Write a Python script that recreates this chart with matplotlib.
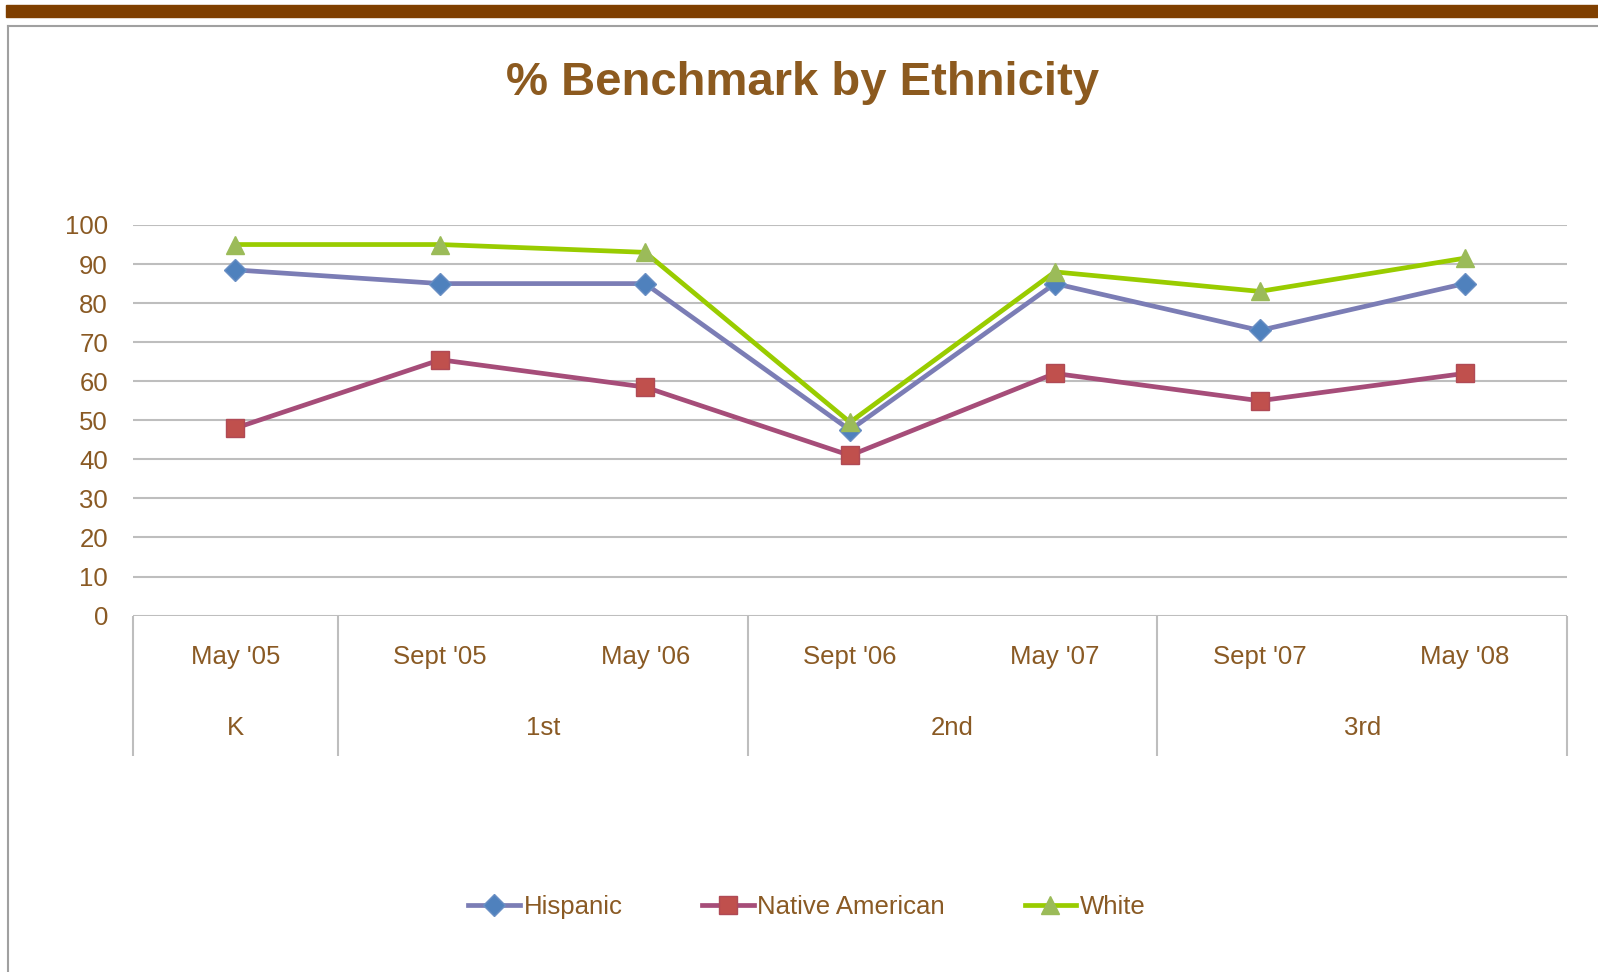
import matplotlib.pyplot as plt
from matplotlib.patches import Rectangle
from matplotlib.lines import Line2D

plt.rcParams['font.family'] = ['Liberation Sans', 'DejaVu Sans']

# data
dates = ["May '05", "Sept '05", "May '06", "Sept '06", "May '07", "Sept '07", "May '08"]
grades = ["K", "1st", "2nd", "3rd"]
grade_span = [1, 2, 2, 2]   # how many dates in each grade
hispanic = [88.5, 85, 85, 47.5, 85, 73, 85]
native_american = [48, 65.5, 58.5, 41, 62, 55, 62]
white = [95, 95, 93, 49.5, 88, 83, 91.5]

brown = '#8A5A24'
grid_c = '#BEBEBE'

fig = plt.figure(figsize=(15.98, 9.72), dpi=100)

# top brown bar and chart frame
fig.patches.append(Rectangle((6/1598, 1-17/972), 1, 12/972, transform=fig.transFigure,
                             color='#7F3F00', zorder=0))
fig.add_artist(Line2D([8/1598, 8/1598], [0, 1-26.5/972], color='#A0A0A0', lw=1.5))
fig.add_artist(Line2D([8/1598, 1], [1-26.5/972, 1-26.5/972], color='#A0A0A0', lw=1.5))

ax = fig.add_axes([133/1598, 1-615.6/972, 1434/1598, 390.6/972])
x = list(range(len(dates)))

ax.plot(x, hispanic, color='#7B7DB5', lw=3.4, marker='D', ms=11,
        mfc='#4F81BD', mec='#6A8FC4', label='Hispanic', zorder=3)
ax.plot(x, native_american, color='#A64D79', lw=3.4, marker='s', ms=13,
        mfc='#C0504D', mec='#B04A55', label='Native American', zorder=3)
ax.plot(x, white, color='#99CC00', lw=3.4, marker='^', ms=13,
        mfc='#9BBB59', mec='#9BBB59', label='White', zorder=4)

ax.set_xlim(-0.5, len(dates) - 0.5)
ax.set_ylim(0, 100)
ax.set_yticks(range(0, 101, 10))
for s in ax.spines.values():
    s.set_visible(False)
ax.yaxis.grid(True, color=grid_c, lw=1.5)
ax.set_axisbelow(True)
ax.tick_params(axis='y', length=0, pad=18, labelsize=18.5, labelcolor=brown)

ax.set_xticks(x)
ax.set_xticklabels(dates)
ax.tick_params(axis='x', length=0, pad=21, labelsize=18.5, labelcolor=brown)

# category box below the axis
bottom = -36
edges = [-0.5]
for n in grade_span:
    edges.append(edges[-1] + n)
ax.vlines(edges, bottom, 0, colors=grid_c, lw=1.5, clip_on=False)
for i, g in enumerate(grades):
    cx = (edges[i] + edges[i + 1]) / 2
    ax.text(cx, -28.8, g, ha='center', va='center', fontsize=18.5, color=brown, clip_on=False)

fig.text(0.5025, 1-83/972, '% Benchmark by Ethnicity', ha='center', va='center',
         fontsize=34, fontweight='bold', color='#8C5A1F')

leg = fig.legend(loc='center', bbox_to_anchor=(0.505, 1-907/972), ncol=3, frameon=False,
                 fontsize=18.5, handlelength=2.0, handletextpad=0.15, columnspacing=3.1)
for t in leg.get_texts():
    t.set_color(brown)

fig.savefig('out.png', dpi=100)
